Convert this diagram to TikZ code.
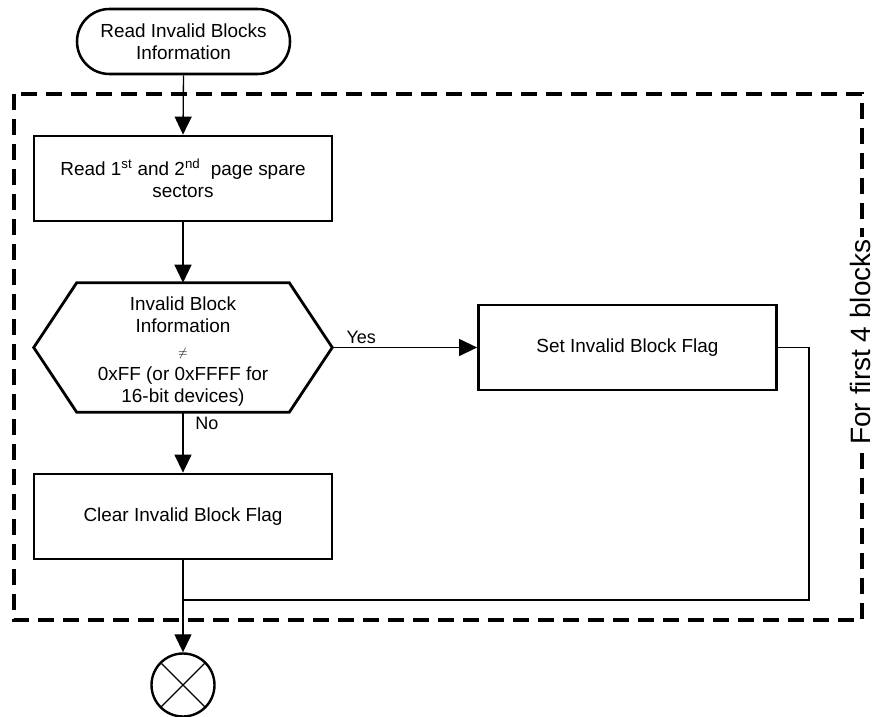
\documentclass[tikz,border=0pt]{standalone}
\usepackage{fontspec}
\setmainfont{Liberation Sans}
\usetikzlibrary{arrows.meta,calc}
\begin{document}
\begin{tikzpicture}[x=0.75pt,y=-0.75pt,
  every node/.style={font=\fontsize{14.2}{16.5}\selectfont, align=center, inner sep=0pt},
  procbox/.style={draw, line width=2.1pt, minimum width=223.5pt, minimum height=63.75pt},
  termbox/.style={draw, line width=1.9pt, rounded corners=24.3pt, minimum width=159.75pt, minimum height=48.75pt},
  hexbox/.style={minimum width=223.5pt, minimum height=96.75pt},
  conn/.style={line width=1pt},
  arr/.style={conn, -{Triangle[length=13.5pt,width=12.75pt]}},
  loopframe/.style={line width=2.4pt, dash pattern=on 12pt off 6.75pt},
  lbl/.style={font=\fontsize{13.5}{16}\selectfont}
]
\useasboundingbox (0,0) rectangle (875,717);

% loop frame
\draw[loopframe] (14,94) rectangle (862,620);
\node[rotate=90, fill=white, inner sep=2pt, font=\fontsize{21}{25}\selectfont] (looplbl) at (860,342) {For first 4 blocks};

% nodes
\node[termbox] (start) at (183.5,41.5) {Read Invalid Blocks\\Information};
\node[procbox] (read) at (183,178.5) {Read 1\textsuperscript{st} and 2\textsuperscript{nd}\ \ page spare\\sectors};
\node[hexbox] (dec) at (183,347.5) {};
\node[anchor=center] (dectext) at ($(dec.center)+(0,4)$) {Invalid Block\\Information\\[1.5pt]{\small$\neq$}\\[1.5pt]0xFF (or 0xFFFF for\\16-bit devices)};
\draw[line width=2.1pt, line join=miter]
  (dec.west) -- ($(dec.north west)+(43,0)$) -- ($(dec.north east)+(-43,0)$) -- (dec.east)
  -- ($(dec.south east)+(-43,0)$) -- ($(dec.south west)+(43,0)$) -- cycle;
\node[procbox] (set) at (627.5,347.5) {Set Invalid Block Flag};
\node[procbox] (clear) at (183,516.5) {Clear Invalid Block Flag};
\node[draw, circle, line width=1.8pt, minimum size=47.25pt] (endc) at (183,685) {};
\draw[conn] (endc.45) -- (endc.225);
\draw[conn] (endc.135) -- (endc.-45);

% connectors
\draw[arr] (start.south) -- (read.north);
\draw[arr] (read.south) -- (dec.north);
\draw[arr] (dec.east) -- (set.west);
\draw[arr] (dec.south) -- (clear.north);
\coordinate (join) at (183,600);
\draw[conn] (set.east) -- ++(31,0) |- (join);
\draw[arr] (clear.south) -- (endc.north);

% labels
\node[lbl, anchor=south west] (yes) at ($(dec.east)+(14,-4)$) {Yes};
\node[lbl, anchor=north west] (no) at ($(dec.south)+(12,5)$) {No};
\end{tikzpicture}
\end{document}
